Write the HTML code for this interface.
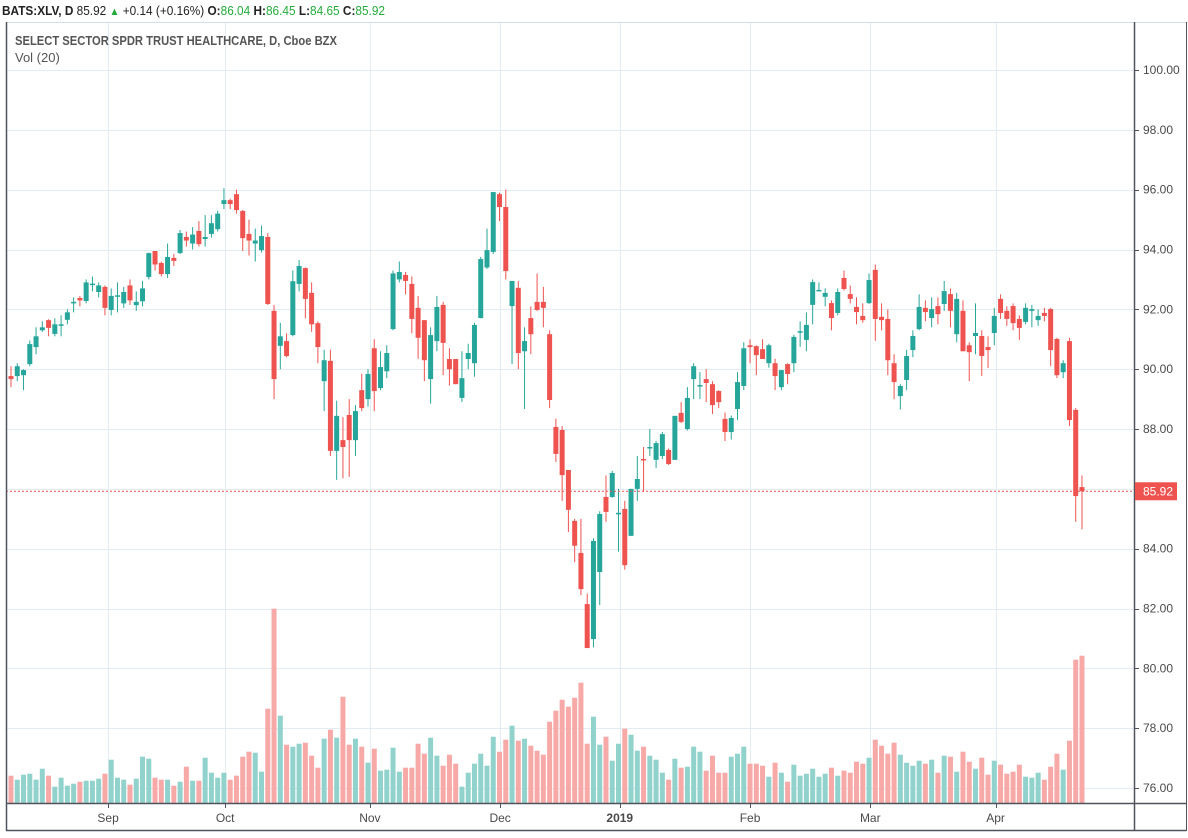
<!DOCTYPE html>
<html><head><meta charset="utf-8">
<style>
html,body{margin:0;padding:0;background:#fff;width:1188px;height:838px;overflow:hidden;font-family:"Liberation Sans",sans-serif;}
svg{position:absolute;left:0;top:0}
</style></head><body>
<svg id="chart" width="1188" height="838">
<text x="2" y="15" font-family="Liberation Sans, sans-serif" font-size="13" fill="#222" textLength="383" lengthAdjust="spacingAndGlyphs"><tspan font-weight="bold">BATS:XLV, D</tspan>  85.92 <tspan fill="#22ab3a" font-size="11">&#9650;</tspan> +0.14 (+0.16%) <tspan font-weight="bold">O:</tspan><tspan fill="#22ab3a">86.04</tspan> <tspan font-weight="bold">H:</tspan><tspan fill="#22ab3a">86.45</tspan> <tspan font-weight="bold">L:</tspan><tspan fill="#22ab3a">84.65</tspan> <tspan font-weight="bold">C:</tspan><tspan fill="#22ab3a">85.92</tspan></text>
</svg>
<script>
const opens=[89.77,89.77,89.8,90.17,90.74,91.3,91.64,91.18,91.45,91.65,92.2,92.38,92.28,92.83,92.58,92.75,91.98,92.43,92.2,92.8,92.14,92.27,93.08,93.95,93.55,93.18,93.72,93.88,94.42,94.2,94.62,94.35,94.52,94.68,95.52,95.65,95.85,95.29,94.52,94.2,93.98,94.42,91.95,90.78,90.94,91.14,92.85,93.38,92.55,91.54,89.6,90.28,87.27,87.63,88.47,87.63,89.3,89.0,90.7,89.37,89.93,91.34,93.0,93.15,92.85,92.05,91.64,89.67,90.94,92.15,90.34,90.34,89.04,90.34,90.2,91.71,93.4,93.92,95.85,95.42,92.11,92.72,90.6,91.71,92.25,92.25,91.17,88.07,87.97,86.63,84.93,83.86,82.15,80.98,83.22,85.73,85.73,85.18,85.33,84.43,86.0,87.0,87.35,86.97,87.1,87.3,86.97,88.54,88.0,89.67,89.45,89.67,89.5,89.27,88.34,87.9,88.67,89.44,90.8,90.77,90.67,90.2,90.2,89.4,90.17,90.2,91.25,90.98,92.15,92.63,92.42,92.21,91.88,93.05,92.51,92.08,91.78,92.21,93.32,91.75,91.68,90.2,89.1,89.64,90.64,91.34,92.05,91.71,92.11,92.18,92.51,91.17,91.95,90.8,91.11,91.11,90.74,91.21,92.35,91.95,92.11,91.68,91.58,91.95,91.64,91.88,92.01,91.01,89.9,90.94,88.64,86.06];
const closes=[89.67,90.1,89.97,90.84,91.1,91.4,91.38,91.5,91.5,91.9,92.25,92.3,92.9,92.86,92.8,92.05,92.45,92.47,92.58,92.3,92.25,92.7,93.88,93.5,93.18,93.75,93.62,94.55,94.3,94.5,94.18,94.42,94.88,95.2,95.65,95.52,95.32,94.38,94.3,94.3,94.45,92.18,89.67,91.1,90.44,92.94,93.45,92.35,91.5,90.74,90.3,87.27,88.44,87.4,87.63,88.6,88.7,89.84,89.27,90.07,90.54,93.2,93.25,92.95,91.68,91.05,90.3,91.14,92.08,90.88,90.0,89.5,89.7,90.54,91.48,93.68,93.98,95.92,95.42,93.28,92.95,90.54,90.94,91.17,91.98,92.05,88.97,87.17,86.46,85.3,84.1,82.65,80.68,84.26,85.16,85.23,86.53,85.2,83.45,86.0,86.33,86.97,87.4,87.53,87.83,86.83,88.44,88.24,89.04,90.1,89.47,89.54,88.8,88.9,87.9,88.37,89.57,90.7,90.74,90.47,90.34,90.8,89.77,89.97,89.84,91.08,91.27,91.48,92.91,92.65,92.55,91.71,92.58,92.68,92.35,91.91,91.64,92.98,91.68,91.64,90.3,89.57,89.44,90.44,91.11,92.08,91.91,92.01,91.84,92.61,91.95,92.35,90.6,90.57,91.21,90.44,90.64,91.78,91.88,91.68,91.54,91.38,92.05,92.01,91.78,91.78,90.64,89.8,90.2,88.3,85.76,85.92];
const highs=[90.1,90.2,90.0,90.96,91.4,91.6,91.67,91.7,91.8,92.0,92.4,92.45,93.0,93.1,92.9,92.8,92.7,92.9,92.75,93.0,92.6,92.95,93.9,93.95,93.6,94.2,93.85,94.65,94.6,94.75,94.95,95.15,95.15,95.3,96.05,95.7,96.0,95.32,95.0,94.7,94.8,94.55,92.15,91.55,91.2,93.3,93.65,93.4,92.9,91.6,90.65,90.65,88.95,88.4,89.0,88.8,89.85,90.0,91.0,90.6,90.8,93.3,93.6,93.25,93.1,92.45,91.64,91.4,92.45,92.25,90.7,90.34,90.6,90.85,91.55,93.75,94.7,95.92,95.9,96.0,92.95,92.95,91.4,92.1,93.2,92.75,91.3,88.35,88.1,86.63,85.0,85.0,82.5,84.35,85.25,86.45,86.6,86.0,85.6,86.0,87.1,87.4,88.0,87.6,87.9,87.35,88.44,88.9,89.4,90.2,89.9,90.0,89.6,89.3,88.55,88.45,89.9,90.9,91.0,90.8,91.0,90.85,90.35,89.97,90.2,91.15,91.6,91.9,93.0,92.9,92.7,92.3,92.7,93.3,92.8,92.4,92.2,93.2,93.5,92.2,92.0,90.5,89.5,90.65,91.3,92.5,92.3,92.4,92.4,92.95,92.7,92.55,92.3,90.9,92.2,91.3,91.1,92.05,92.5,92.1,92.2,91.8,92.2,92.15,92.0,92.05,92.05,91.05,90.3,91.05,88.7,86.45];
const lows=[89.4,89.6,89.3,90.1,90.5,91.25,91.1,91.1,91.1,91.5,91.9,92.1,92.2,92.6,92.4,91.8,91.8,91.9,92.05,92.15,91.95,92.1,93.0,93.3,93.1,93.05,93.45,93.85,94.1,94.0,94.1,94.1,94.4,94.6,95.35,95.35,95.2,93.95,93.8,93.6,93.9,92.15,89.0,90.0,90.4,91.1,92.6,91.7,91.25,90.2,88.6,87.1,86.3,86.35,86.4,87.1,88.6,88.75,88.6,89.3,89.7,91.3,92.9,92.5,91.2,90.35,89.6,88.85,90.6,89.8,89.45,89.5,88.9,90.0,89.75,91.7,93.35,93.85,94.95,93.0,90.17,90.0,88.67,90.5,91.95,91.4,88.7,86.9,85.6,84.56,83.55,82.45,80.68,80.7,82.12,84.9,85.7,83.9,83.3,84.43,85.6,85.9,87.1,86.7,87.0,86.8,86.97,88.2,87.95,89.0,89.0,88.9,88.5,88.7,87.6,87.65,88.3,89.3,90.2,89.8,90.34,90.05,89.3,89.3,89.5,89.9,90.75,90.6,91.5,92.6,92.1,91.3,91.8,92.63,92.2,91.5,91.55,92.18,90.95,91.3,89.8,89.0,88.65,89.3,90.4,91.3,91.6,91.4,91.5,91.95,91.4,90.9,90.6,89.6,90.5,89.77,90.04,90.8,91.68,91.45,91.3,90.98,91.5,91.4,91.45,91.6,90.1,89.7,89.7,88.1,84.9,84.65];
const volumes=[2.73,2.33,2.83,2.93,2.33,3.43,2.73,1.63,2.53,1.73,1.93,2.13,2.23,2.23,2.43,2.93,4.33,2.53,2.33,1.83,2.43,4.63,4.43,2.53,2.33,2.33,1.73,2.13,3.63,2.23,2.23,4.53,3.03,2.53,3.03,2.33,2.73,4.63,5.13,5.03,3.13,9.43,19.43,8.73,5.83,5.63,5.93,6.03,4.73,3.53,6.43,7.33,6.53,10.63,5.83,6.43,5.63,4.03,5.43,3.23,3.33,5.53,3.13,3.53,3.53,5.93,4.93,6.53,4.73,3.73,4.83,3.93,1.63,3.03,3.93,4.93,3.73,6.63,5.13,6.33,7.73,6.23,6.43,5.73,5.23,4.83,8.13,9.23,10.33,9.63,10.53,12.03,5.93,8.63,5.83,6.63,4.23,5.93,7.43,6.83,5.23,5.63,4.73,4.33,3.03,2.33,4.43,3.53,3.63,5.63,5.13,3.23,4.73,3.03,3.03,4.63,4.93,5.63,3.93,3.93,3.73,2.63,4.03,3.03,2.13,3.83,2.73,2.93,3.43,2.63,2.93,3.53,2.73,3.23,3.03,4.13,3.93,4.53,6.33,5.73,4.93,6.03,4.83,4.03,3.73,4.23,3.93,4.33,3.03,4.73,4.63,3.13,5.13,4.13,3.43,4.53,2.83,4.23,3.83,2.93,3.13,3.83,2.63,2.53,3.03,2.33,3.63,4.93,3.33,6.23,14.33,14.73];
const priceTicks=[76,78,80,82,84,86,88,90,92,94,96,98,100,102];
const monthLabels=["Sep","Oct","Nov","Dec","2019","Feb","Mar","Apr"];
const monthIndex=[15.5,34.2,57.3,78.1,97.2,118,137.2,157.2];

const NS="http://www.w3.org/2000/svg";
const svg=document.getElementById('chart');
const L=6,R=1134,T=22,B=803;
const xScale=i=>11+i*6.263;
const yScale=p=>70+(100-p)*29.92;
const vScale=v=>B-v*10;
function mk(tag,attrs,parent){const e=document.createElementNS(NS,tag);for(const k in attrs)e.setAttribute(k,attrs[k]);(parent||svg).appendChild(e);return e;}

const clip=mk('clipPath',{id:'pc'});mk('rect',{x:L,y:T,width:R-L,height:B-T},clip);
const grid=mk('g',{'clip-path':'url(#pc)'});


priceTicks.forEach(p=>{const y=Math.round(yScale(p))+0.5;const l=mk('line',{x1:L,x2:R,y1:y,y2:y,stroke:'#e4ecf3','stroke-width':1},grid);

});
monthIndex.forEach(mi=>{const x=Math.round(xScale(mi))+0.5;const l=mk('line',{x1:x,x2:x,y1:T,y2:B,stroke:'#e4ecf3','stroke-width':1},grid);

});

const vg=mk('g',{'clip-path':'url(#pc)'});


volumes.forEach((v,i)=>{const up=closes[i]>=opens[i];const x=xScale(i);const y=vScale(v);
const r=mk('rect',{x:x-2.5,y:y,width:5,height:B-y,fill:up?'#92d2cc':'#f7a9a7'},vg);

});

const cg=mk('g',{'clip-path':'url(#pc)'});


opens.forEach((o,i)=>{const c=closes[i];const up=c>=o;const col=up?'#26a69a':'#ef5350';const x=xScale(i);
const g=mk('g',{},cg);


mk('line',{x1:x,x2:x,y1:yScale(highs[i]),y2:yScale(lows[i]),stroke:col,'stroke-width':1},g);
const yt=yScale(Math.max(o,c)),yb=yScale(Math.min(o,c));
mk('rect',{x:x-2.5,y:yt,width:5,height:Math.max(1.5,yb-yt),fill:col},g);});

const last=closes[closes.length-1];const ly=yScale(last);
const pl=mk('line',{x1:L,x2:R,y1:ly,y2:ly,stroke:'#ef5350','stroke-width':1,'stroke-dasharray':'2,2'});



const fr=mk('g',{});


mk('line',{x1:L,x2:1186,y1:T+0.5,y2:T+0.5,stroke:'#d6dce2'},fr);
mk('line',{x1:L+0.5,x2:L+0.5,y1:T,y2:831,stroke:'#50535e','stroke-width':1.5},fr);
mk('line',{x1:R+0.5,x2:R+0.5,y1:T,y2:831,stroke:'#50535e','stroke-width':1.5},fr);
mk('line',{x1:L,x2:1186,y1:B+0.5,y2:B+0.5,stroke:'#50535e','stroke-width':1.5},fr);
mk('line',{x1:L,x2:1186,y1:830.5,y2:830.5,stroke:'#50535e','stroke-width':1.5},fr);
mk('line',{x1:1186.5,x2:1186.5,y1:T,y2:831,stroke:'#50535e','stroke-width':1},fr);

const ax=mk('g',{'font-family':'Liberation Sans, sans-serif','font-size':'12','fill':'#4a4a4a'});


priceTicks.forEach(p=>{const y=yScale(p);if(y<T+8)return;
mk('line',{x1:R,x2:R+5,y1:Math.round(y)+0.5,y2:Math.round(y)+0.5,stroke:'#50535e'},ax);
const t=mk('text',{x:1143,y:y+4},ax);t.textContent=p.toFixed(2);

});
const lb=mk('g',{});


mk('rect',{x:R+1,y:ly-9,width:42,height:18,fill:'#ef5350'},lb);
const lt=mk('text',{x:1143,y:ly+4,'font-family':'Liberation Sans, sans-serif','font-size':'12',fill:'#fff'},lb);lt.textContent=last.toFixed(2);

const tx=mk('g',{'font-family':'Liberation Sans, sans-serif','font-size':'12','fill':'#4a4a4a','text-anchor':'middle'});


monthLabels.forEach((m,k)=>{const x=xScale(monthIndex[k]);
mk('line',{x1:Math.round(x)+0.5,x2:Math.round(x)+0.5,y1:B,y2:B+5,stroke:'#50535e'},tx);
const t=mk('text',{x:x,y:822,'font-weight':m==='2019'?'bold':'normal'},tx);t.textContent=m;

});

const tt=mk('text',{x:15,y:45,'font-family':'Liberation Sans, sans-serif','font-size':'13','font-weight':'bold',fill:'#555',textLength:322,lengthAdjust:'spacingAndGlyphs'});
tt.textContent='SELECT SECTOR SPDR TRUST HEALTHCARE, D, Cboe BZX';


const vt=mk('text',{x:15,y:62,'font-family':'Liberation Sans, sans-serif','font-size':'13',fill:'#555'});
vt.textContent='Vol (20)';


</script>
</body></html>
